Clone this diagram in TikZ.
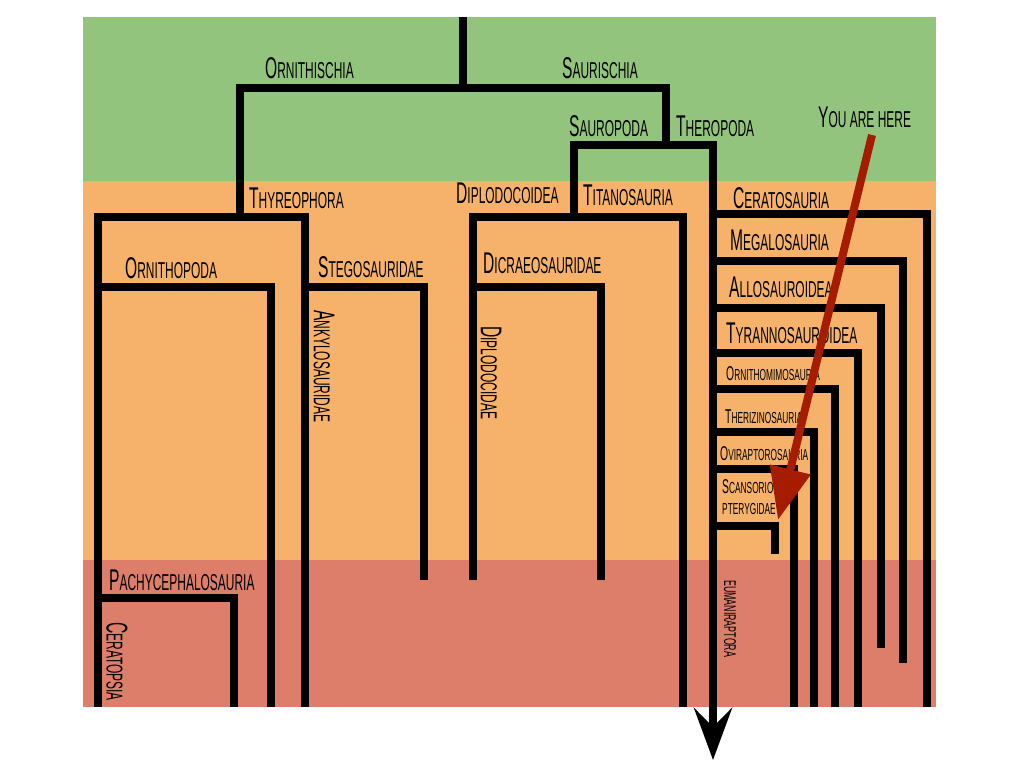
\documentclass[tikz,border=0pt]{standalone}
\usepackage{fontspec}
\newfontfamily\am[FakeStretch=0.52]{Liberation Sans}
\usetikzlibrary{arrows.meta}
\definecolor{bgG}{HTML}{93C47D}
\definecolor{bgO}{HTML}{F6B26B}
\definecolor{bgR}{HTML}{DD7E6B}
\definecolor{here}{HTML}{A61C00}
\newcommand\Lg[2]{{\fontsize{30}{30}\selectfont #1}{\fontsize{23}{24}\selectfont #2}}
\newcommand\Sm[2]{{\fontsize{20}{20}\selectfont #1}{\fontsize{16}{16}\selectfont #2}}
\newcommand\Tn[1]{{\fontsize{17}{17}\selectfont #1}}
\begin{document}
\begin{tikzpicture}[x=1pt,y=-1pt,
  branch/.style={line width=8pt, line join=miter, line cap=butt},
  lab/.style={font=\am, inner sep=0pt, anchor=base west},
  vlab/.style={font=\am, inner sep=0pt, anchor=west, rotate=-90}]
\useasboundingbox (0,0) rectangle (1024,768);
% bands
\fill[bgG] (83,17) rectangle (936,181);
\fill[bgO] (83,181) rectangle (936,560);
\fill[bgR] (83,560) rectangle (936,707);
% root
\draw[branch] (463,17) -- (463,88);
\draw[branch] (240,217) -- (240,88) -- (666,88) -- (666,145);
% Ornithischia
\draw[branch] (98,707) -- (98,217) -- (305,217) -- (305,707);
\draw[branch] (98,287) -- (271,287) -- (271,707);
\draw[branch] (98,598) -- (234,598) -- (234,707);
\draw[branch] (305,287) -- (424,287) -- (424,580);
% Sauropoda
\draw[branch] (574,217) -- (574,145) -- (713,145);
\draw[branch] (473,580) -- (473,217) -- (683,217) -- (683,707);
\draw[branch] (473,287) -- (601,287) -- (601,580);
% Theropoda
\draw[branch, -{Stealth[length=52pt, width=38pt, inset=19pt]}] (713,141) -- (713,760);
\draw[branch] (713,214) -- (927,214) -- (927,707);
\draw[branch] (713,261) -- (903,261) -- (903,663);
\draw[branch] (713,308) -- (881,308) -- (881,648);
\draw[branch] (713,353) -- (858,353) -- (858,707);
\draw[branch] (713,389) -- (835,389) -- (835,707);
\draw[branch] (713,432) -- (814,432) -- (814,707);
\draw[branch] (713,469) -- (794,469) -- (794,707);
\draw[branch] (713,526) -- (775,526) -- (775,554);
% labels
\node[lab] (ornith) at (265,78) {\Lg{O}{RNITHISCHIA}};
\node[lab] (saur) at (562,78) {\Lg{S}{AURISCHIA}};
\node[lab] (sauro) at (569,136) {\Lg{S}{AUROPODA}};
\node[lab] (thero) at (676,136) {\Lg{T}{HEROPODA}};
\node[lab] (here) at (818,127) {\Lg{Y}{OU ARE HERE}};
\node[lab] (thyreo) at (249,208) {\Lg{T}{HYREOPHORA}};
\node[lab] (diplo) at (456,203) {\Lg{D}{IPLODOCOIDEA}};
\node[lab] (titano) at (583,205) {\Lg{T}{ITANOSAURIA}};
\node[lab] (cerato) at (733,208) {\Lg{C}{ERATOSAURIA}};
\node[lab] (megalo) at (730,250) {\Lg{M}{EGALOSAURIA}};
\node[lab] (allo) at (729,297) {\Lg{A}{LLOSAUROIDEA}};
\node[lab] (tyranno) at (726,343) {\Lg{T}{YRANNOSAUROIDEA}};
\node[lab] (ornithomim) at (726,380) {\Sm{O}{RNITHOMIMOSAURIA}};
\node[lab] (therizino) at (725,423) {\Sm{T}{HERIZINOSAURIA}};
\node[lab] (ovi) at (720,460) {\Sm{O}{VIRAPTOROSAURIA}};
\node[lab] (scans) at (722,493) {\Sm{S}{CANSORIO}};
\node[lab] (ptery) at (722,514) {\Sm{}{PTERYGIDAE}};
\node[lab] (ornithopoda) at (125,278) {\Lg{O}{RNITHOPODA}};
\node[lab] (stego) at (318,277) {\Lg{S}{TEGOSAURIDAE}};
\node[lab] (dicraeo) at (483,273) {\Lg{D}{ICRAEOSAURIDAE}};
\node[lab] (pachy) at (109,590) {\Lg{P}{ACHYCEPHALOSAURIA}};
\node[vlab] (ankylo) at (324,310) {\Lg{A}{NKYLOSAURIDAE}};
\node[vlab] (diplodocidae) at (491,326) {\Lg{D}{IPLODOCIDAE}};
\node[vlab] (ceratopsia) at (117,622) {\Lg{C}{ERATOPSIA}};
\node[vlab] (euman) at (730,580) {\Tn{EUMANIRAPTORA}};
% you are here arrow
\coordinate (hs) at (872,135);
\coordinate (ht) at (778,520);
\draw[line width=8pt, here, -{Triangle[length=52pt, width=40pt]}] (hs) -- (ht);
\end{tikzpicture}
\end{document}
